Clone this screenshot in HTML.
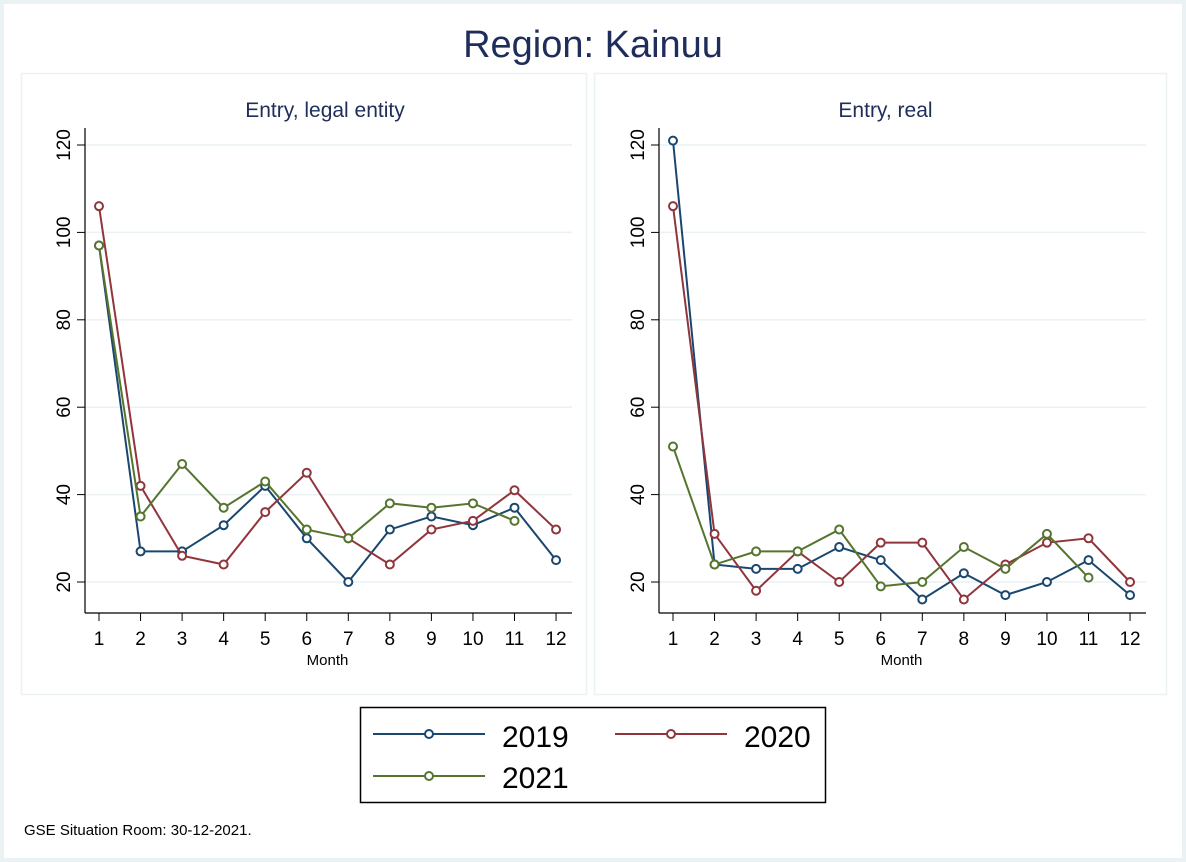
<!DOCTYPE html>
<html><head><meta charset="utf-8"><style>
body{margin:0;background:#fff}
svg{display:block;font-family:"Liberation Sans",sans-serif}
</style></head><body>
<svg id="s" width="1186" height="862" xmlns="http://www.w3.org/2000/svg">
<rect x="0" y="0" width="1186" height="862" fill="#eaf2f3"/>
<rect x="4" y="4" width="1178" height="854" fill="#fff"/>
<text x="593" y="57" font-size="38" fill="#1e2d5a" text-anchor="middle">Region: Kainuu</text>
<rect x="360.5" y="707.5" width="465" height="95" fill="#fff" stroke="#000" stroke-width="1.5"/>
<line x1="373" y1="734" x2="485" y2="734" stroke="#1a476f" stroke-width="2"/><circle cx="429" cy="734" r="4" fill="#fff" stroke="#1a476f" stroke-width="2"/>
<text x="502" y="747" font-size="30">2019</text>
<line x1="615" y1="734" x2="727" y2="734" stroke="#90353b" stroke-width="2"/><circle cx="671" cy="734" r="4" fill="#fff" stroke="#90353b" stroke-width="2"/>
<text x="744" y="747" font-size="30">2020</text>
<line x1="373" y1="776" x2="485" y2="776" stroke="#55752f" stroke-width="2"/><circle cx="429" cy="776" r="4" fill="#fff" stroke="#55752f" stroke-width="2"/>
<text x="502" y="788" font-size="30">2021</text>
<text x="24" y="835" font-size="15">GSE Situation Room: 30-12-2021.</text>
</svg>
<script>
var s=document.getElementById('s'),ns='http://www.w3.org/2000/svg';
function el(t,a,txt){var e=document.createElementNS(ns,t);for(var k in a)e.setAttribute(k,a[k]);if(txt!=null)e.textContent=txt;s.appendChild(e);return e;}
var C=['#1a476f','#90353b','#55752f'];
var P=[{x0:21.5,w:565,ax:85,m1:99,title:'Entry, legal entity',d:[[97,27,27,33,42,30,20,32,35,33,37,25],[106,42,26,24,36,45,30,24,32,34,41,32],[97,35,47,37,43,32,30,38,37,38,34]]},
{x0:594.5,w:572,ax:659,m1:673,title:'Entry, real',d:[[121,24,23,23,28,25,16,22,17,20,25,17],[106,31,18,27,20,29,29,16,24,29,30,20],[51,24,27,27,32,19,20,28,23,31,21]]}];
function Y(v){return 582-(v-20)*4.37;}
P.forEach(function(p){
 el('rect',{x:p.x0,y:73.5,width:p.w,height:621,fill:'#fff',stroke:'#eaf2f3','stroke-width':1.5});
 el('text',{x:p.x0+p.w/2+(p.x0<100?21:5),y:117,'font-size':21,fill:'#1e2d5a','text-anchor':'middle'},p.title);
 var right=p.ax+487;
 for(var v=20;v<=120;v+=20){var y=Y(v);
  el('line',{x1:p.ax,y1:y,x2:right,y2:y,stroke:'#eaf2f3','stroke-width':1.5});
  el('line',{x1:p.ax-8,y1:y,x2:p.ax,y2:y,stroke:'#000','stroke-width':1});
  var t=el('text',{x:0,y:0,'font-size':19,'text-anchor':'middle',transform:'translate('+(p.ax-15)+','+y+') rotate(-90)'},v);}
 el('line',{x1:p.ax,y1:128,x2:p.ax,y2:613,stroke:'#000','stroke-width':1.2});
 el('line',{x1:p.ax,y1:613,x2:right,y2:613,stroke:'#000','stroke-width':1.2});
 for(var m=1;m<=12;m++){var x=p.m1+(m-1)*41.55;
  el('line',{x1:x,y1:613,x2:x,y2:621,stroke:'#000','stroke-width':1});
  el('text',{x:x,y:645,'font-size':19,'text-anchor':'middle'},m);}
 el('text',{x:p.m1+5.5*41.55,y:665,'font-size':15,'text-anchor':'middle'},'Month');
 p.d.forEach(function(d,i){
  var pts=d.map(function(v,j){return (p.m1+j*41.55)+','+Y(v);}).join(' ');
  el('polyline',{points:pts,fill:'none',stroke:C[i],'stroke-width':2});
  d.forEach(function(v,j){el('circle',{cx:p.m1+j*41.55,cy:Y(v),r:4,fill:'#fff',stroke:C[i],'stroke-width':2});});
 });
});
</script>
</body></html>
